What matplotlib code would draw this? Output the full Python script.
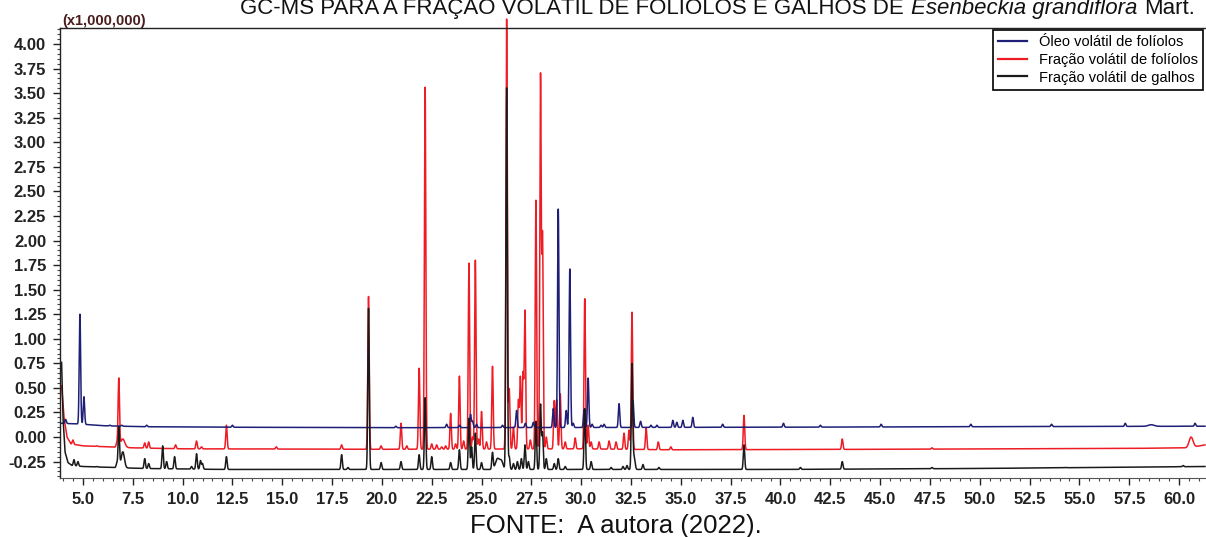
# imports
import numpy as np
import matplotlib
matplotlib.use("Agg")
from matplotlib import pyplot as plt
from matplotlib.ticker import MultipleLocator, FormatStrFormatter
from matplotlib.lines import Line2D

plt.rcParams['font.family'] = ['Liberation Sans', 'DejaVu Sans']
plt.rcParams['axes.unicode_minus'] = False

# colours of the three traces
oleo_color_hex = '#1f1f78'
folha_color_hex = '#ee1c24'
galho_color_hex = '#1a1a1a'

series_labels = ['Óleo volátil de folíolos', 'Fração volátil de folíolos', 'Fração volátil de galhos']

rt_start = 3.93
rt_end = 61.3

# --- Óleo volátil de folíolos (navy) ---
oleo_base_rt = [3.93, 4.5, 5.0, 6.0, 8.0, 12.0, 20.0, 30.0, 40.0, 50.0, 61.3]
oleo_base_y = [0.14, 0.135, 0.13, 0.115, 0.105, 0.10, 0.095, 0.097, 0.10, 0.105, 0.11]
oleo_peak_rt = [4.13, 4.85, 5.05, 6.35, 6.95, 8.2, 12.5, 20.7, 23.25, 23.9, 24.45, 24.55, 24.75,
                26.05, 26.76, 27.2, 27.6, 28.6, 28.85, 29.25, 29.43, 29.6, 30.15, 30.35, 30.55,
                31.0, 31.15, 31.9, 32.6, 32.98, 33.5, 33.8, 34.6, 34.8, 35.1, 35.6, 37.1, 40.15,
                42.0, 45.05, 49.55, 53.6, 57.3, 60.8]
oleo_peak_top = [0.18, 1.25, 0.41, 0.12, 0.12, 0.12, 0.12, 0.11, 0.13, 0.12, 0.23, 0.16, 0.13,
                 0.12, 0.27, 0.14, 0.15, 0.29, 2.32, 0.27, 1.71, 0.14, 0.28, 0.60, 0.13,
                 0.12, 0.13, 0.34, 0.37, 0.16, 0.12, 0.12, 0.17, 0.15, 0.17, 0.20, 0.13, 0.14,
                 0.12, 0.13, 0.13, 0.13, 0.14, 0.14]
oleo_broad_rt = [58.6]
oleo_broad_top = [0.125]
oleo_broad_w = [0.15]

# --- Fração volátil de folíolos (red) ---
folha_base_rt = [3.93, 4.05, 4.2, 4.4, 5.0, 7.5, 10.0, 20.0, 30.0, 34.5, 45.0, 58.0, 60.5, 61.3]
folha_base_y = [0.52, 0.2, 0.0, -0.07, -0.09, -0.11, -0.12, -0.125, -0.12, -0.13, -0.125, -0.115, -0.11, -0.08]
folha_peak_rt = [4.5, 5.7, 6.7, 6.8, 8.1, 8.3, 9.65, 10.7, 10.95, 12.2, 14.7, 17.98, 19.33, 19.96,
                 20.96, 21.25, 21.87, 22.17, 22.5, 22.75, 23.0, 23.2, 23.45, 23.7, 23.89, 24.1,
                 24.37, 24.55, 24.69, 24.85, 25.0, 25.25, 25.55, 26.26, 26.39, 26.6, 26.85, 26.95,
                 27.08, 27.18, 27.45, 27.73, 27.96, 28.06, 28.25, 28.65, 28.77, 28.95, 29.2, 29.7,
                 30.18, 30.35, 30.5, 30.9, 31.4, 31.75, 32.15, 32.4, 32.55, 33.26, 33.87, 34.5,
                 38.17, 43.1, 47.6]
folha_peak_top = [-0.03, -0.09, -0.06, 0.59, -0.06, -0.05, -0.08, -0.04, -0.10, 0.12, -0.10, -0.08, 1.43, -0.09,
                  0.14, -0.09, 0.70, 3.56, -0.07, -0.08, -0.10, -0.09, 0.24, -0.07, 0.62, -0.04,
                  1.77, 0.0, 1.80, -0.02, 0.26, -0.05, 0.72, 4.26, 0.49, 0.10, 0.37, 0.61,
                  0.64, 1.28, -0.03, 2.41, 3.67, 2.03, 0.0, 0.37, 0.38, 0.44, -0.05, -0.01,
                  1.41, 0.12, -0.05, -0.05, -0.04, -0.05, 0.04, 0.07, 1.27, 0.09, -0.05, -0.10,
                  0.22, -0.02, -0.11]
folha_broad_rt = [7.0, 60.6]
folha_broad_top = [-0.02, 0.0]
folha_broad_w = [0.1, 0.1]

# --- Fração volátil de galhos (black) ---
galho_base_rt = [3.93, 4.0, 4.1, 4.25, 4.45, 5.0, 6.5, 8.0, 12.0, 40.0, 50.0, 61.3]
galho_base_y = [0.76, 0.2, -0.15, -0.26, -0.29, -0.30, -0.31, -0.32, -0.33, -0.33, -0.32, -0.30]
galho_peak_rt = [4.55, 4.75, 5.7, 6.7, 6.8, 8.1, 8.3, 9.0, 9.2, 9.6, 10.45, 10.7, 10.9, 11.0,
                 12.2, 17.98, 18.3, 19.33, 19.96, 20.96, 21.87, 22.17, 22.5, 23.45, 23.89, 24.37,
                 24.5, 24.69, 25.0, 25.55, 26.26, 26.39, 26.6, 26.8, 27.0, 27.18, 27.35, 27.73,
                 27.96, 28.06, 28.25, 28.65, 28.85, 29.2, 30.18, 30.5, 31.5, 32.1, 32.3, 32.55,
                 33.1, 33.9, 38.17, 41.0, 43.1, 47.6, 54.3, 60.2]
galho_peak_top = [-0.23, -0.25, -0.30, -0.27, 0.10, -0.22, -0.27, -0.09, -0.25, -0.20, -0.30, -0.17, -0.24, -0.27,
                  -0.20, -0.18, -0.31, 1.31, -0.26, -0.25, -0.18, 0.40, -0.20, -0.26, -0.13, 0.19,
                  -0.10, 0.04, -0.26, -0.16, 3.56, -0.20, -0.27, -0.25, -0.22, -0.08, -0.25, 0.16,
                  0.33, 0.04, -0.22, -0.27, -0.22, -0.30, 0.29, -0.25, -0.31, -0.30, -0.29, 0.73,
                  -0.28, -0.31, -0.08, -0.31, -0.25, -0.31, -0.31, -0.29]
galho_broad_rt = [7.0, 25.8, 26.0, 32.65]
galho_broad_top = [-0.15, -0.22, -0.25, -0.20]
galho_broad_w = [0.08, 0.1, 0.08, 0.05]

peak_sigma = 0.035


def build_trace(base_rt, base_y, peak_rt, peak_top, broad_rt, broad_top, broad_w):
	t = np.arange(rt_start, rt_end, 0.004)
	y = np.interp(t, base_rt, base_y)
	rts = list(peak_rt) + list(broad_rt)
	tops = list(peak_top) + list(broad_top)
	widths = [peak_sigma] * len(peak_rt) + list(broad_w)
	for r, top, s in zip(rts, tops, widths):
		h = top - np.interp(r, base_rt, base_y)
		y = y + h * np.exp(-0.5 * ((t - r) / s) ** 2)
	return t, y


fig = plt.figure(figsize=(12.06, 5.37), dpi=100)
ax = fig.add_axes([60 / 1206, 59 / 537, 1145 / 1206, 450 / 537])

t, y_folha = build_trace(folha_base_rt, folha_base_y, folha_peak_rt, folha_peak_top,
                         folha_broad_rt, folha_broad_top, folha_broad_w)
ax.plot(t, y_folha, color=folha_color_hex, linewidth=1.1, clip_on=False)
t, y_oleo = build_trace(oleo_base_rt, oleo_base_y, oleo_peak_rt, oleo_peak_top,
                        oleo_broad_rt, oleo_broad_top, oleo_broad_w)
ax.plot(t, y_oleo, color=oleo_color_hex, linewidth=1.1, clip_on=False)
t, y_galho = build_trace(galho_base_rt, galho_base_y, galho_peak_rt, galho_peak_top,
                         galho_broad_rt, galho_broad_top, galho_broad_w)
ax.plot(t, y_galho, color=galho_color_hex, linewidth=1.1, clip_on=False)

ax.set_xlim(3.85, 61.3)
ax.set_ylim(-0.417, 4.163)

# ticks
ax.xaxis.set_major_locator(MultipleLocator(2.5))
ax.xaxis.set_minor_locator(MultipleLocator(0.5))
ax.yaxis.set_major_locator(MultipleLocator(0.25))
ax.yaxis.set_minor_locator(MultipleLocator(0.05))
ax.xaxis.set_major_formatter(FormatStrFormatter('%.1f'))
ax.yaxis.set_major_formatter(FormatStrFormatter('%.2f'))
ax.tick_params(axis='both', which='major', direction='out', length=5, width=1, labelsize=12, colors='#222222')
ax.tick_params(axis='both', which='minor', direction='out', length=2.5, width=0.8, colors='#444444')
ax.tick_params(axis='y', which='major', pad=5)
ax.tick_params(axis='x', which='major', pad=5)
for lab in ax.get_xticklabels() + ax.get_yticklabels():
	lab.set_fontweight('bold')

for side in ['left', 'top']:
	ax.spines[side].set_color('#222222')
	ax.spines[side].set_linewidth(1.0)
ax.spines['bottom'].set_color('#555555')
ax.spines['right'].set_visible(False)

# legend
handles = [Line2D([], [], color=c, linewidth=1.6) for c in (oleo_color_hex, folha_color_hex, galho_color_hex)]
leg = ax.legend(handles, series_labels, loc='upper right', bbox_to_anchor=(1.0, 1.0), borderaxespad=0.15,
                fontsize=10.5, handlelength=2.0, labelspacing=0.25, fancybox=False, framealpha=1,
                edgecolor='black', borderpad=0.35)
leg.get_frame().set_linewidth(1.2)

# texts
fig.text(62 / 1206, 1 - 25 / 537, '(x1,000,000)', fontsize=10.5, fontweight='bold', color='#4a1c1c', va='baseline')
t1 = fig.text(240 / 1206, 1 - 14 / 537, 'GC-MS PARA A FRAÇÃO VOLÁTIL DE FOLÍOLOS E GALHOS DE',
              fontsize=16, va='baseline', color='#111111')
t2 = ax.annotate('Esenbeckia grandiflora', xy=(1, 0), xycoords=t1, xytext=(5, 0), textcoords='offset points',
                 fontsize=16, style='italic', va='bottom', ha='left', color='#111111')
ax.annotate('Mart.', xy=(1, 0), xycoords=t2, xytext=(5, 0), textcoords='offset points',
            fontsize=16, va='bottom', ha='left', color='#111111')
fig.text(616 / 1206, 1 - 533 / 537, 'FONTE:  A autora (2022).', fontsize=18.5, ha='center', va='baseline', color='#111111')

plt.savefig('out.png', dpi=100)
